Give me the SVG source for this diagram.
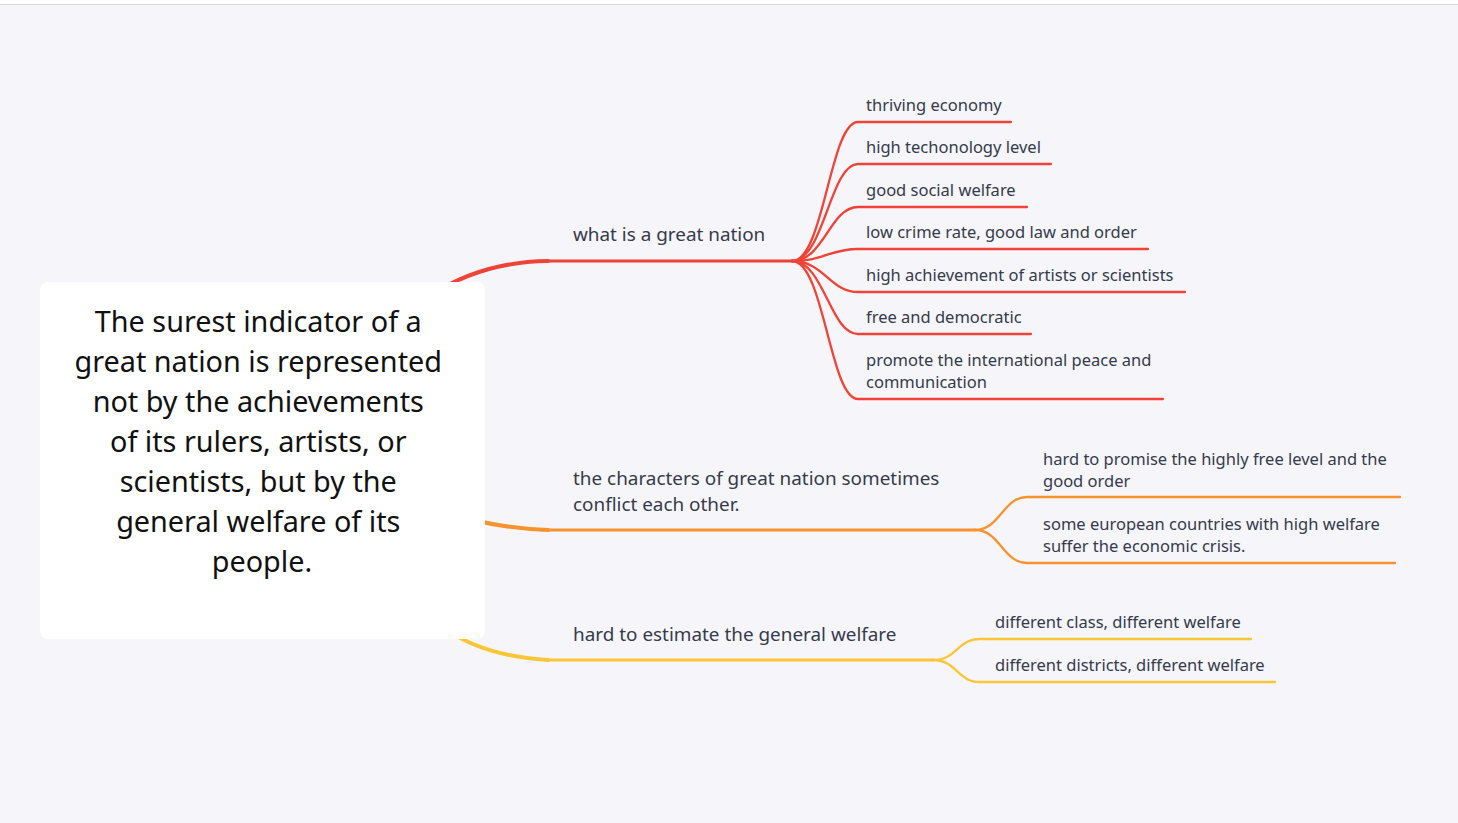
<svg xmlns="http://www.w3.org/2000/svg" width="1458" height="823" viewBox="0 0 1458 823">
<style>
.bg{fill:#f5f5fa}
.t{font-family:"Noto Sans","Liberation Sans",sans-serif;fill:#353b4b}
.c{font-size:16.5px}
.b{font-size:18.9px}
.root{font-family:"Noto Sans","Liberation Sans",sans-serif;font-size:28.8px;fill:#111;text-anchor:middle}
.r{stroke:#ef4338;fill:none;stroke-linecap:round}
.o{stroke:#f8922e;fill:none;stroke-linecap:round}
.y{stroke:#fcc536;fill:none;stroke-linecap:round}
</style>
<rect width="1458" height="823" fill="#ffffff"/>
<rect class="bg" x="0" y="5" width="1458" height="818"/>
<line x1="0" y1="4.5" x2="1458" y2="4.5" stroke="#d9d9d9" stroke-width="1"/>
<g id="connectors">
  <path class="r" d="M430,296 Q480,262 548,261" stroke-width="4"/>
  <path class="r" d="M548,261 L792,261" stroke-width="2.8"/>
  <path class="r" d="M792,261 C824,261 830,122 858,122 L1011,122" stroke-width="2.3"/>
  <path class="r" d="M792,261 C824,261 830,164 858,164 L1051,164" stroke-width="2.3"/>
  <path class="r" d="M792,261 C824,261 830,207 858,207 L1027,207" stroke-width="2.3"/>
  <path class="r" d="M792,261 C824,261 830,249 858,249 L1148,249" stroke-width="2.3"/>
  <path class="r" d="M792,261 C824,261 830,292 858,292 L1185,292" stroke-width="2.3"/>
  <path class="r" d="M792,261 C824,261 830,334 858,334 L1031,334" stroke-width="2.3"/>
  <path class="r" d="M792,261 C824,261 830,399 858,399 L1163,399" stroke-width="2.3"/>
  <path class="o" d="M440,510 Q490,528 548,530" stroke-width="4"/>
  <path class="o" d="M548,530 L975,530" stroke-width="2.8"/>
  <path class="o" d="M975,530 C1000,530 1003,497 1027,497 L1400,497" stroke-width="2.3"/>
  <path class="o" d="M975,530 C1000,530 1003,563 1027,563 L1395,563" stroke-width="2.3"/>
  <path class="y" d="M440,625 Q480,656 548,660" stroke-width="4"/>
  <path class="y" d="M548,660 L933,660" stroke-width="2.8"/>
  <path class="y" d="M933,660 C957,660 957,639 980,639 L1251,639" stroke-width="2.3"/>
  <path class="y" d="M933,660 C957,660 957,682 980,682 L1275,682" stroke-width="2.3"/>
</g>
<g id="root">
  <rect x="40" y="282" width="445" height="357" rx="8" fill="#ffffff"/>
  <text class="root" x="262">
    <tspan x="262" y="332">The surest indicator of a</tspan>
    <tspan x="262" y="372">great nation is represented</tspan>
    <tspan x="262" y="412">not by the achievements</tspan>
    <tspan x="262" y="452">of its rulers, artists, or</tspan>
    <tspan x="262" y="492">scientists, but by the</tspan>
    <tspan x="262" y="532">general welfare of its</tspan>
    <tspan x="262" y="572">people.</tspan>
  </text>
</g>
<g id="n-great-nation"><text class="t b" x="573" y="241">what is a great nation</text></g>
<g id="n-thriving"><text class="t c" x="866" y="111">thriving economy</text></g>
<g id="n-tech"><text class="t c" x="866" y="153">high techonology level</text></g>
<g id="n-social"><text class="t c" x="866" y="196">good social welfare</text></g>
<g id="n-crime"><text class="t c" x="866" y="238">low crime rate, good law and order</text></g>
<g id="n-achieve"><text class="t c" x="866" y="281">high achievement of artists or scientists</text></g>
<g id="n-free"><text class="t c" x="866" y="323">free and democratic</text></g>
<g id="n-peace"><text class="t c" x="866"><tspan x="866" y="366">promote the international peace and</tspan><tspan x="866" y="388">communication</tspan></text></g>
<g id="n-conflict"><text class="t b" x="573"><tspan x="573" y="485">the characters of great nation sometimes</tspan><tspan x="573" y="511">conflict each other.</tspan></text></g>
<g id="n-promise"><text class="t c" x="1043"><tspan x="1043" y="465">hard to promise the highly free level and the</tspan><tspan x="1043" y="487">good order</tspan></text></g>
<g id="n-european"><text class="t c" x="1043"><tspan x="1043" y="530">some european countries with high welfare</tspan><tspan x="1043" y="552">suffer the economic crisis.</tspan></text></g>
<g id="n-estimate"><text class="t b" x="573" y="641">hard to estimate the general welfare</text></g>
<g id="n-class"><text class="t c" x="995" y="628">different class, different welfare</text></g>
<g id="n-districts"><text class="t c" x="995" y="671">different districts, different welfare</text></g>
</svg>
